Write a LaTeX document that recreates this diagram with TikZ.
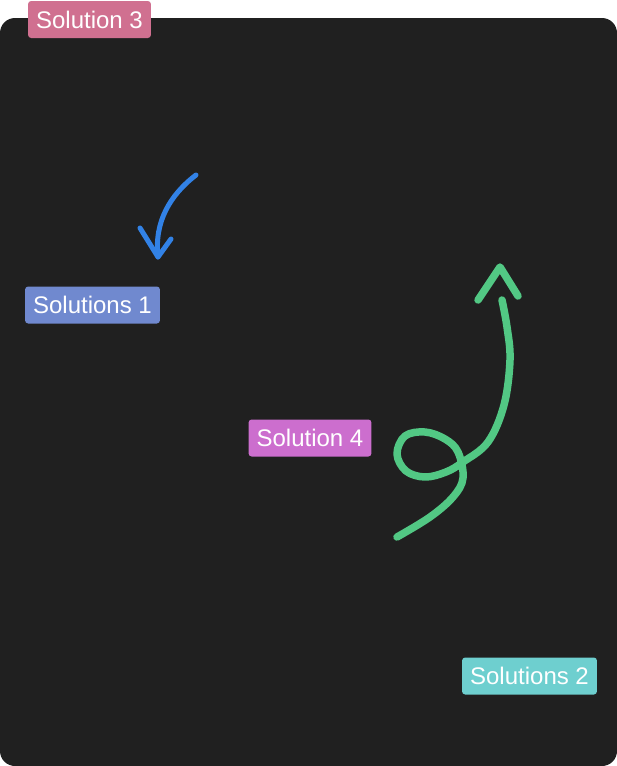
\documentclass[tikz,border=0pt]{standalone}
\usepackage{fontspec}
\setmainfont{Liberation Sans}
\definecolor{bg}{HTML}{202020}
\definecolor{tagpink}{HTML}{D07090}
\definecolor{tagblue}{HTML}{7089CF}
\definecolor{tagpurple}{HTML}{CC6ECE}
\definecolor{tagteal}{HTML}{6ECFCF}
\definecolor{penblue}{HTML}{3282E6}
\definecolor{pengreen}{HTML}{52C884}
\begin{document}
\begin{tikzpicture}[x=1pt,y=-1pt,font=\fontsize{24}{28}\selectfont,
	tag/.style={text=white,rounded corners=3pt,minimum height=37pt,inner xsep=8pt,inner ysep=0pt},
	pen/.style={line cap=round,line join=round}]
	\useasboundingbox(0,0)rectangle(617,766);
	\fill[bg,rounded corners=15pt](0,18)rectangle(617,766);
	% labels
	\node[tag,fill=tagpink](s3)at(89.5,19.5){Solution 3};
	\node[tag,fill=tagblue](s1)at(92.5,305){Solutions 1};
	\node[tag,fill=tagpurple](s4)at(310,438){Solution 4};
	\node[tag,fill=tagteal](s2)at(529.5,676){Solutions 2};
	% blue stroke
	\coordinate(Bs)at(196,175);
	\coordinate(Bt)at(158,257);
	\draw[pen,penblue,line width=5pt](Bs)..controls(170,195)and(154,222)..(Bt);
	\draw[pen,penblue,line width=5pt](140,228)--(Bt)--(171,239);
	% green stroke with loop
	\coordinate(Gs)at(397,537);
	\coordinate(Gt)at(500,267);
	\draw[pen,pengreen,line width=7.5pt]plot[smooth,tension=.6]coordinates{(Gs)(430,517)(453,497)(463,478)(458,452)(445,439)(425,432)(405,436)(397,454)(406,471)(425,477)(446,472)(463,462)(488,442)(504,405)(510,360)(507,327)(502,300)};
	\draw[pen,pengreen,line width=7.5pt](478,300)--(Gt)--(518,296);
\end{tikzpicture}
\end{document}
